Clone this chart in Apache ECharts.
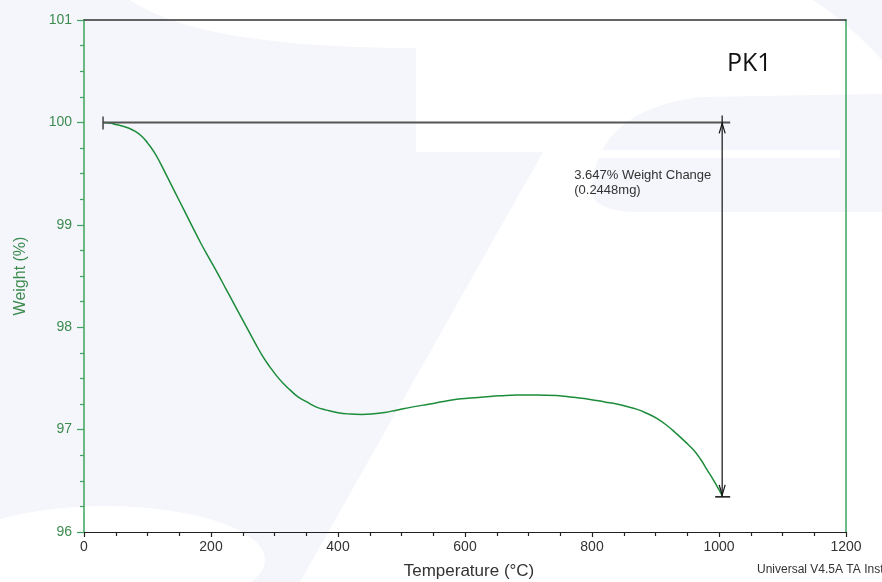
<!DOCTYPE html>
<html><head><meta charset="utf-8">
<script src="https://cdn.jsdelivr.net/npm/echarts@6/dist/echarts.min.js"></script>
<style>html,body{margin:0;padding:0;background:#f4f6fb}#c{width:882px;height:582px}</style>
</head><body><div id="c"></div>
<script>
// ---- data ----
const temperature = [30, 40, 50, 60, 70, 80, 90, 100, 110, 120, 131, 144, 157, 170, 184, 197, 210, 223, 236, 256, 270, 282, 293, 304, 314, 324, 337, 351, 366, 382, 400, 419, 437, 456, 474, 492, 518, 545, 566, 587, 608, 629, 655, 681, 712, 744, 770, 797, 820, 839, 855, 870, 886, 902, 918, 933, 947, 960, 971, 981, 992, 1002, 1005];
const weight      = [100.00, 99.995, 99.98, 99.965, 99.945, 99.915, 99.87, 99.80, 99.715, 99.605, 99.47, 99.31, 99.15, 98.99, 98.82, 98.675, 98.53, 98.38, 98.23, 98.00, 97.84, 97.71, 97.61, 97.52, 97.45, 97.39, 97.32, 97.27, 97.22, 97.19, 97.165, 97.152, 97.148, 97.154, 97.168, 97.19, 97.222, 97.25, 97.275, 97.296, 97.308, 97.318, 97.33, 97.338, 97.338, 97.332, 97.315, 97.295, 97.27, 97.25, 97.225, 97.20, 97.16, 97.11, 97.04, 96.96, 96.88, 96.80, 96.71, 96.61, 96.50, 96.39, 96.353];
const xTickLabels = [0, 200, 400, 600, 800, 1000, 1200];
const yTickLabels = [96, 97, 98, 99, 100, 101];
const bracketX = [30, 1005];          // start temperature, end temperature
const bracketY = [100, 96.353];       // start weight, end weight
const annotAt = [772, 99.56];
const annotLines = ['3.647% Weight Change', '(0.2448mg)'];
const sampleName = 'PK1';

const GREEN_LINE = '#1c8c3a';
const GREEN_AXIS = '#3ea35e';
const GREEN_TEXT = '#3d8b4f';

const series = temperature.map((t, i) => [t, weight[i]]);

// helpers for the faint background watermark (decoration only)
function quad(p0, c, p1, n) {
  const out = [];
  for (let i = 0; i <= n; i++) {
    const t = i / n, u = 1 - t;
    out.push([u * u * p0[0] + 2 * u * t * c[0] + t * t * p1[0], u * u * p0[1] + 2 * u * t * c[1] + t * t * p1[1]]);
  }
  return out;
}
function ellipsePts(cx, cy, rx, ry, n) {
  const out = [];
  for (let i = 0; i < n; i++) { const a = 2 * Math.PI * i / n; out.push([cx + rx * Math.cos(a), cy + ry * Math.sin(a)]); }
  return out;
}
const wmWhite = [].concat(
  [[813, 0]], quad([813, 0], [850, 25], [882, 60], 12),
  [[882, 582], [300, 582], [543, 152], [416, 152]],
  quad([416, 48], [200, 48], [130, 0], 20)
);
const wmLeaf = [].concat(
  quad([592, 190], [596, 110], [700, 97], 16),
  [[882, 94], [882, 212]],
  quad([640, 212], [592, 212], [592, 190], 8)
);

const FONT = '"Liberation Sans", Arial, sans-serif';
const chart = echarts.init(document.getElementById('c'), null, {renderer: 'canvas'});
chart.setOption({
  backgroundColor: '#f4f6fb',
  animation: false,
  graphic: [
    { type: 'polygon', z: -10, silent: true, shape: { points: wmWhite }, style: { fill: '#ffffff' } },
    { type: 'polygon', z: -9, silent: true, shape: { points: wmLeaf }, style: { fill: '#f4f6fb' } },
    { type: 'rect', z: -8, silent: true, shape: { x: 560, y: 150, width: 280, height: 8 }, style: { fill: '#ffffff' } },
    { type: 'polygon', z: -8, silent: true, shape: { points: ellipsePts(105, 560, 160, 54, 60) }, style: { fill: '#ffffff' } },
    { type: 'text', z: 10, left: 727, top: 51,
      style: { text: sampleName, font: '25px "Open Sans", sans-serif', fill: '#111' } },
    { type: 'text', z: 10, left: 757, top: 564,
      style: { text: 'Universal V4.5A TA Instruments', font: '12px ' + FONT, fill: '#333' } }
  ],
  grid: { left: 84, right: 36, top: 20, bottom: 50, containLabel: false, outerBoundsMode: 'none' },
  xAxis: [{
    type: 'value', min: xTickLabels[0], max: xTickLabels[xTickLabels.length - 1], interval: 200,
    name: 'Temperature (°C)', nameLocation: 'middle', nameGap: 31,
    nameTextStyle: { fontFamily: FONT, fontSize: 17, color: '#333', padding: [0, 0, 0, 8] },
    axisLine: { show: true, onZero: false, lineStyle: { color: '#222', width: 1.2 } },
    axisTick: { show: true, inside: false, length: 5, lineStyle: { color: '#222', width: 1.2 } },
    minorTick: { show: true, splitNumber: 4, length: 4, lineStyle: { color: '#222', width: 1.2 } },
    axisLabel: { margin: 8, fontFamily: FONT, fontSize: 14, color: '#333', formatter: v => String(v) },
    splitLine: { show: false }
  }, {
    type: 'value', position: 'top', min: 0, max: 1200,
    axisLine: { show: true, onZero: false, lineStyle: { color: '#333', width: 1.5 } },
    axisTick: { show: false }, axisLabel: { show: false }, splitLine: { show: false }
  }],
  yAxis: [{
    type: 'value', min: yTickLabels[0], max: yTickLabels[yTickLabels.length - 1], interval: 1,
    name: 'Weight (%)', nameLocation: 'middle', nameGap: 55, nameRotate: 90,
    nameTextStyle: { fontFamily: FONT, fontSize: 16, color: GREEN_TEXT },
    axisLine: { show: true, onZero: false, lineStyle: { color: GREEN_AXIS, width: 1.5 } },
    axisTick: { show: true, inside: false, length: 7, lineStyle: { color: GREEN_AXIS, width: 1.2 } },
    minorTick: { show: true, splitNumber: 4, length: 4, lineStyle: { color: GREEN_AXIS, width: 1.2 } },
    axisLabel: { margin: 12, fontFamily: FONT, fontSize: 14, color: GREEN_TEXT, formatter: v => String(v) },
    splitLine: { show: false }
  }, {
    type: 'value', position: 'right', min: 96, max: 101,
    axisLine: { show: true, onZero: false, lineStyle: { color: GREEN_AXIS, width: 1.5 } },
    axisTick: { show: false }, axisLabel: { show: false }, splitLine: { show: false }
  }],
  series: [{
    type: 'line', data: series, smooth: 0.5, symbol: 'none', z: 3,
    lineStyle: { color: GREEN_LINE, width: 1.5 }
  }, {
    type: 'custom', z: 4, clip: false, silent: true,
    data: [[bracketX[1], bracketY[0]]],
    renderItem: function (params, api) {
      const pL = api.coord([bracketX[0], bracketY[0]]);
      const pR = api.coord([bracketX[1], bracketY[0]]);
      const pB = api.coord([bracketX[1], bracketY[1]]);
      const pT = api.coord(annotAt);
      return { type: 'group', children: [
        { type: 'line', shape: { x1: pL[0], y1: pL[1], x2: pR[0] + 8, y2: pR[1] }, style: { stroke: '#555', lineWidth: 2 } },
        { type: 'line', shape: { x1: pL[0], y1: pL[1] - 6, x2: pL[0], y2: pL[1] + 7 }, style: { stroke: '#444', lineWidth: 1.5 } },
        { type: 'line', shape: { x1: pR[0], y1: pR[1] - 7, x2: pB[0], y2: pB[1] + 1 }, style: { stroke: '#222', lineWidth: 1.3 } },
        { type: 'polyline', shape: { points: [[pR[0] - 3, pR[1] + 11], [pR[0], pR[1] + 1], [pR[0] + 3, pR[1] + 11]] }, style: { stroke: '#111', lineWidth: 1.2, fill: null } },
        { type: 'polyline', shape: { points: [[pB[0] - 3, pB[1] - 11], [pB[0], pB[1] - 1], [pB[0] + 3, pB[1] - 11]] }, style: { stroke: '#111', lineWidth: 1.2, fill: null } },
        { type: 'line', shape: { x1: pB[0] - 7, y1: pB[1] + 1, x2: pB[0] + 8, y2: pB[1] + 1 }, style: { stroke: '#111', lineWidth: 1.5 } },
        { type: 'text', x: pT[0], y: pT[1], style: { text: annotLines.join('\n'), font: '13px ' + FONT, fill: '#333', lineHeight: 15, verticalAlign: 'top', align: 'left' } }
      ] };
    }
  }]
});
</script></body></html>
